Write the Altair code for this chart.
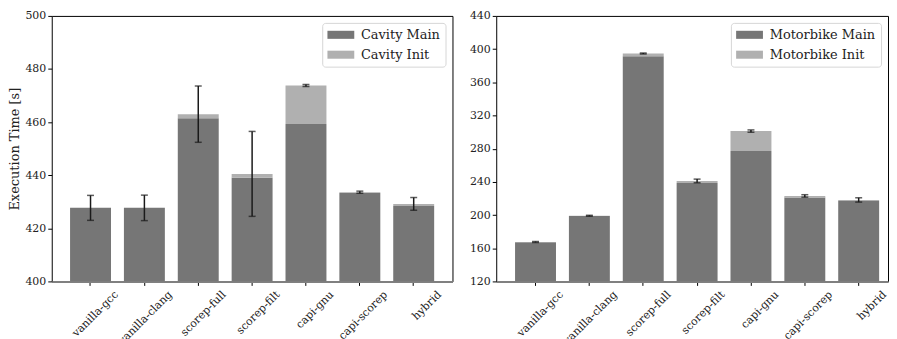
import altair as alt
import pandas as pd

categories = ["vanilla-gcc", "vanilla-clang", "scorep-full", "scorep-filt",
              "capi-gnu", "capi-scorep", "hybrid"]

cavity_main = [427.7, 427.7, 461.5, 439.0, 459.3, 433.3, 428.4]
cavity_init = [0.0, 0.0, 1.5, 1.5, 14.5, 0.3, 0.8]
cavity_err = [4.7, 4.8, 10.6, 16.0, 0.4, 0.4, 2.4]
cavity_ticks = [400, 420, 440, 460, 480, 500]

motor_main = [167.3, 198.8, 391.5, 238.7, 277.2, 221.0, 217.0]
motor_init = [0.2, 0.3, 3.2, 2.4, 24.0, 2.0, 1.2]
motor_err = [0.6, 0.6, 0.6, 2.2, 1.4, 1.5, 2.6]
motor_ticks = [120, 160, 200, 240, 280, 320, 360, 400, 440]

MAIN_COLOR = "#767676"
INIT_COLOR = "#b0b0b0"
FONT = "DejaVu Serif"


def panel(name, main, init, err, ticks, width, title, pad_outer, align):
    ymin, ymax = ticks[0], ticks[-1]
    main_lbl = f"{name} Main"
    init_lbl = f"{name} Init"
    rows = []
    for c, m, i in zip(categories, main, init):
        rows.append({"cat": c, "series": main_lbl, "y0": ymin, "y1": m})
        rows.append({"cat": c, "series": init_lbl, "y0": m, "y1": m + i})
    bars_df = pd.DataFrame(rows)
    err_rows = []
    for c, m, i, e in zip(categories, main, init, err):
        t = m + i
        err_rows.append({"cat": c, "lo": t - e, "hi": t + e})
    err_df = pd.DataFrame(err_rows)

    xscale = alt.Scale(paddingInner=0.24, paddingOuter=pad_outer, align=align)
    xenc = alt.X(
        "cat:N", sort=categories, scale=xscale,
        axis=alt.Axis(title=None, labelAngle=315, labelAlign="right",
                      labelBaseline="top", labelFontSize=11, labelPadding=3,
                      labelOffset=22, labelFont=FONT, labelColor="#222",
                      domainColor="#808080", domainWidth=2,
                      tickColor="black", tickSize=4, tickWidth=1),
    )
    yscale = alt.Scale(domain=[ymin, ymax], nice=False, zero=False)
    yaxis = alt.Axis(values=ticks, tickCount=len(ticks) + 5, title=title,
                     grid=False, domain=False, labelFont=FONT, titleFont=FONT,
                     labelColor="#222", titleColor="#222",
                     tickColor="black", tickSize=4, labelFontSize=11,
                     labelPadding=2, titleFontSize=13, titleFontWeight="normal",
                     titlePadding=3)

    legend = alt.Legend(
        title=None, orient="top-right", offset=7,
        symbolType="M-1,-0.6H3V0.6H-1Z", symbolSize=182,
        symbolStrokeWidth=0, labelFont=FONT, labelFontSize=13,
        labelColor="#222", labelOffset=20, rowPadding=6,
        fillColor="white", strokeColor="#d6d6d6", cornerRadius=3,
        padding=5,
    )

    bars = alt.Chart(bars_df).mark_bar(clip=True).encode(
        x=xenc,
        y=alt.Y("y0:Q", scale=yscale, axis=yaxis),
        y2="y1:Q",
        color=alt.Color(
            "series:N",
            scale=alt.Scale(domain=[main_lbl, init_lbl], range=[MAIN_COLOR, INIT_COLOR]),
            legend=legend,
        ),
    )
    rule = alt.Chart(err_df).mark_rule(color="#1a1a1a", strokeWidth=1.5).encode(
        x=alt.X("cat:N", sort=categories),
        y=alt.Y("lo:Q"),
        y2="hi:Q",
    )
    cap_lo = alt.Chart(err_df).mark_tick(color="#1a1a1a", thickness=1.5, size=7).encode(
        x=alt.X("cat:N", sort=categories), y=alt.Y("lo:Q"))
    cap_hi = alt.Chart(err_df).mark_tick(color="#1a1a1a", thickness=1.5, size=7).encode(
        x=alt.X("cat:N", sort=categories), y=alt.Y("hi:Q"))
    return alt.layer(bars, rule, cap_lo, cap_hi).properties(width=width, height=267)


left = panel("Cavity", cavity_main, cavity_init, cavity_err, cavity_ticks, 403,
             "Execution Time [s]", 0.34, 0.5)
right = panel("Motorbike", motor_main, motor_init, motor_err, motor_ticks, 394, None,
              0.257, 0.68)

chart = alt.hconcat(left, right, spacing=15).resolve_scale(
    color="independent", y="independent", x="independent"
).properties(padding=0, background="white").configure_view(
    stroke="black", strokeWidth=1
).configure_axis(
    labelFont=FONT, titleFont=FONT, labelColor="#222", titleColor="#222"
).configure_legend(
    labelFont=FONT
)

chart.save("out.html", embed_options={"renderer": "svg", "actions": False})
